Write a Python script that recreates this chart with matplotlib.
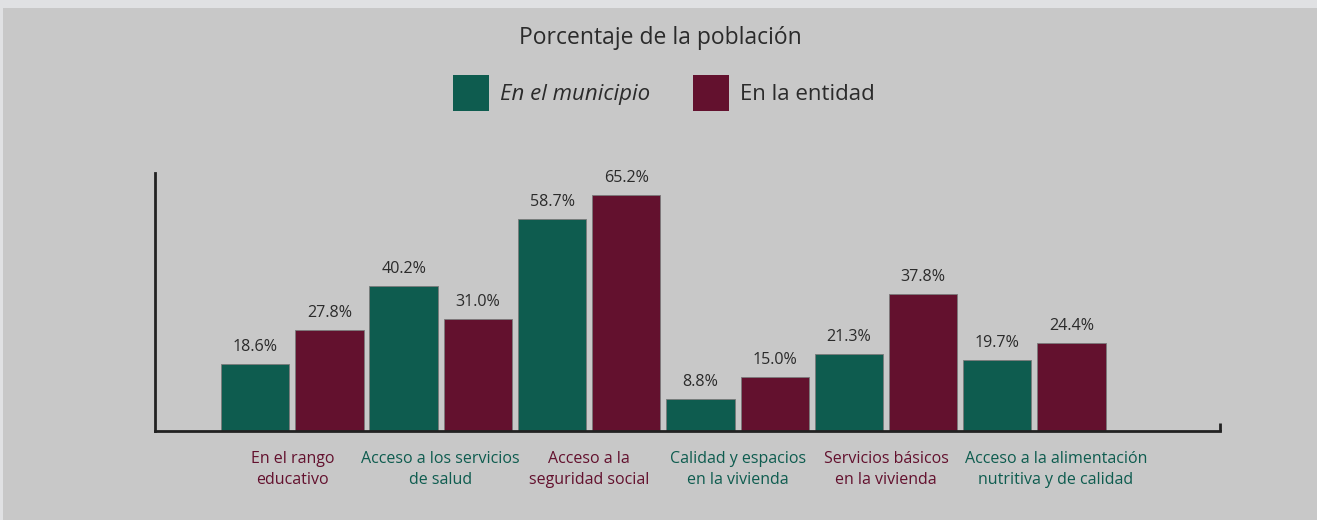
import numpy as np
import matplotlib.pyplot as plt
from matplotlib.patches import Rectangle

plt.rcParams['font.family'] = ['Open Sans', 'DejaVu Sans']

categorias = ['En el rango\neducativo', 'Acceso a los servicios\nde salud',
              'Acceso a la\nseguridad social', 'Calidad y espacios\nen la vivienda',
              'Servicios básicos\nen la vivienda', 'Acceso a la alimentación\nnutritiva y de calidad']
municipio = [18.6, 40.2, 58.7, 8.8, 21.3, 19.7]
entidad = [27.8, 31.0, 65.2, 15.0, 37.8, 24.4]
series = ['En el municipio', 'En la entidad']

verde = '#0e5c4f'
guinda = '#63112e'
fondo = '#c8c8c8'
texto = '#2b2b2b'

fig = plt.figure(figsize=(13.17, 5.2), dpi=100, facecolor='#e0e1e3')
# panel gris detras de todo
fig.patches.append(Rectangle((3 / 1317, 0), 1 - 3 / 1317, 1 - 8 / 520,
                             transform=fig.transFigure, facecolor=fondo,
                             edgecolor='none', zorder=-5))

ax = fig.add_axes([155 / 1317, (520 - 431) / 520, (1220 - 155) / 1317, (431 - 173) / 520])
ax.set_facecolor('none')

n = len(categorias)
x_mun = np.arange(n) * 2
x_ent = x_mun + 1
ancho = 0.92

ax.bar(x_mun, municipio, width=ancho, color=verde, edgecolor='#7a7a7a', linewidth=0.6)
ax.bar(x_ent, entidad, width=ancho, color=guinda, edgecolor='#7a7a7a', linewidth=0.6)

for xs, vals in ((x_mun, municipio), (x_ent, entidad)):
    for xi, v in zip(xs, vals):
        ax.annotate(f'{v:.1f}%', (xi, v), xytext=(0, 6.5), textcoords='offset points',
                    ha='center', va='bottom', fontsize=11.6, color=texto)

ax.set_xlim(-1.35, 13.0)
ax.set_ylim(0, 71.3)
ax.set_xticks([])
ax.set_yticks([])
for lado in ('top', 'right'):
    ax.spines[lado].set_visible(False)
for lado in ('left', 'bottom'):
    ax.spines[lado].set_color('#222222')
    ax.spines[lado].set_linewidth(2)
# marca final del eje x
ax.plot([13.0, 13.0], [0, 2.2], color='#222222', lw=2, clip_on=False, solid_capstyle='butt')

# la ultima etiqueta va algo corrida a la derecha
desplaz = [0, 0, 0, 0, 0, 0.29]
for i, cat in enumerate(categorias):
    color = guinda if i % 2 == 0 else verde
    ax.text(x_mun[i] + 0.5 + desplaz[i], -5.6, cat, ha='center', va='top', fontsize=11.5,
            color=color, linespacing=1.38)

fig.text(660 / 1317, 1 - 38.5 / 520, 'Porcentaje de la población', ha='center', va='center',
         fontsize=16.5, color=texto)

# leyenda
leyenda = [(453, verde, series[0], 'italic'), (693, guinda, series[1], 'normal')]
for x0, color, etiqueta, estilo in leyenda:
    fig.patches.append(Rectangle((x0 / 1317, 1 - 111 / 520), 36 / 1317, 36 / 520,
                                 transform=fig.transFigure, facecolor=color, edgecolor='none'))
    fig.text((x0 + 47) / 1317, 1 - 94.5 / 520, etiqueta, ha='left', va='center',
             fontsize=16, style=estilo, color=texto)

fig.savefig('out.png', dpi=100, facecolor=fig.get_facecolor())
